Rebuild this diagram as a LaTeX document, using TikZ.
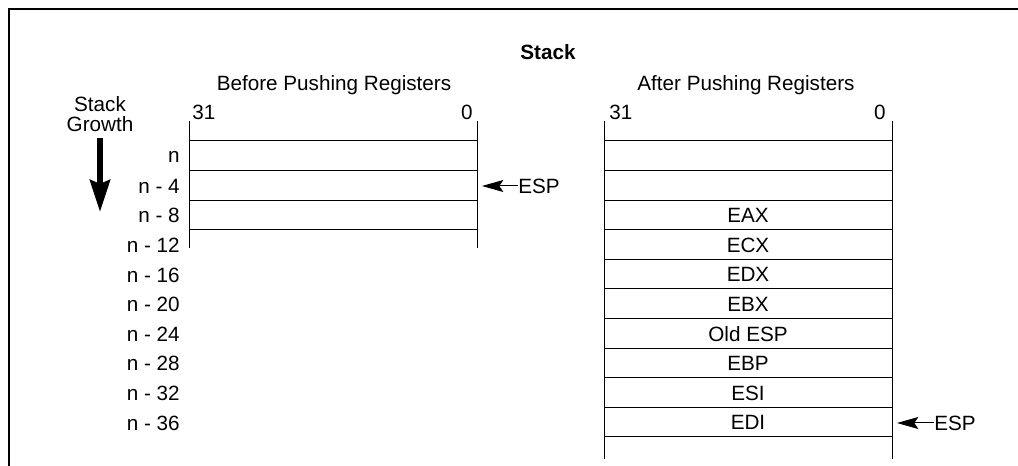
\documentclass[tikz,border=0pt]{standalone}
\usepackage{fontspec}
\setmainfont{Liberation Sans}
\usetikzlibrary{arrows.meta}

\begin{document}
\begin{tikzpicture}[x=0.75pt,y=-0.75pt,font=\fontsize{15.5}{15.5}\selectfont,
  cell/.style={line width=0.75pt},
  reg/.style={inner sep=0pt},
  addr/.style={anchor=east,inner sep=0pt},
  bit/.style={inner sep=0pt},
  espArrow/.style={line width=0.75pt,-{Stealth[length=16pt,width=9pt,inset=3pt]}},
  growArrow/.style={line width=4.5pt,-{Stealth[length=24pt,width=15pt,inset=3pt]}}]
\useasboundingbox (0,0) rectangle (1018,466);
% frame
\draw [line width=1.8pt] (9,466) -- (9,9) -- (1018,9);
% headings
\node (title) at (548,52) {\textbf{Stack}};
\node (before) at (334,85) {Before Pushing Registers};
\node (after) at (746,85) {After Pushing Registers};
\node[bit,anchor=west] (hiA) at (192,112) {31};
\node[bit,anchor=east] (loA) at (473,112) {0};
\node[bit,anchor=west] (hiB) at (609,112) {31};
\node[bit,anchor=east] (loB) at (886,112) {0};
% stack growth
\node[align=center,inner sep=0pt,font=\fontsize{15.5}{14.5}\selectfont] (growth) at (100,114) {Stack\\Growth};
\coordinate (g1) at (100,138);
\coordinate (g2) at (100,212);
\draw [growArrow] (g1) -- (g2);
% before pushing
\draw [cell] (189,121) -- (189,248);
\draw [cell] (477,121) -- (477,248);
\draw [cell] (189,141) -- (477,141);
\draw [cell] (189,170.6) -- (477,170.6);
\draw [cell] (189,200.2) -- (477,200.2);
\draw [cell] (189,229.8) -- (477,229.8);
% after pushing
\draw [cell] (604,121) -- (604,459);
\draw [cell] (892,121) -- (892,459);
\draw [cell] (604,141) -- (892,141);
\draw [cell] (604,170.6) -- (892,170.6);
\draw [cell] (604,200.2) -- (892,200.2);
\draw [cell] (604,229.8) -- (892,229.8);
\draw [cell] (604,259.4) -- (892,259.4);
\draw [cell] (604,289) -- (892,289);
\draw [cell] (604,318.6) -- (892,318.6);
\draw [cell] (604,348.2) -- (892,348.2);
\draw [cell] (604,377.8) -- (892,377.8);
\draw [cell] (604,407.4) -- (892,407.4);
\draw [cell] (604,437) -- (892,437);
% addresses
\node[addr] (a0) at (180,156.5) {n};
\node[addr] (a4) at (180,186.1) {n - 4};
\node[addr] (a8) at (180,215.7) {n - 8};
\node[addr] (a12) at (180,245.3) {n - 12};
\node[addr] (a16) at (180,274.9) {n - 16};
\node[addr] (a20) at (180,304.5) {n - 20};
\node[addr] (a24) at (180,334.1) {n - 24};
\node[addr] (a28) at (180,363.7) {n - 28};
\node[addr] (a32) at (180,393.3) {n - 32};
\node[addr] (a36) at (180,422.9) {n - 36};
% registers
\node[reg] (eax) at (748,215.5) {EAX};
\node[reg] (ecx) at (748,245.1) {ECX};
\node[reg] (edx) at (748,274.7) {EDX};
\node[reg] (ebx) at (748,304.3) {EBX};
\node[reg] (oesp) at (748,333.9) {Old ESP};
\node[reg] (ebp) at (748,363.5) {EBP};
\node[reg] (esi) at (748,393.1) {ESI};
\node[reg] (edi) at (748,422.7) {EDI};
% stack pointers
\node[bit,anchor=west] (espA) at (518,186) {ESP};
\coordinate (topA) at (482,186);
\draw [espArrow] (espA.west) -- (topA);
\node[bit,anchor=west] (espB) at (934,423) {ESP};
\coordinate (topB) at (897,423);
\draw [espArrow] (espB.west) -- (topB);
\end{tikzpicture}
\end{document}
